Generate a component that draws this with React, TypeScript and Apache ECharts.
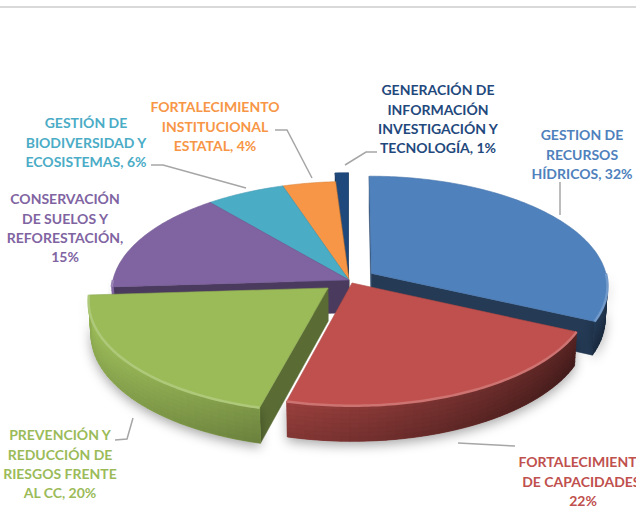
import React, { useEffect, useRef } from "react";
import * as echarts from "echarts";

// ---------- data ----------
const categories = [
  "GESTION DE\nRECURSOS\nHÍDRICOS",
  "FORTALECIMIENTO\nDE CAPACIDADES",
  "PREVENCIÓN Y\nREDUCCIÓN DE\nRIESGOS FRENTE\nAL CC",
  "CONSERVACIÓN\nDE SUELOS Y\nREFORESTACIÓN",
  "GESTIÓN DE\nBIODIVERSIDAD Y\nECOSISTEMAS",
  "FORTALECIMIENTO\nINSTITUCIONAL\nESTATAL",
  "GENERACIÓN DE\nINFORMACIÓN\nINVESTIGACIÓN Y\nTECNOLOGÍA",
];
const values = [32, 22, 20, 15, 6, 4, 1];

// ---------- style / layout ----------
const colors = ["#4F81BD", "#C0504D", "#9BBB59", "#8064A2", "#4BACC6", "#F79646", "#1F497D"];
const labelColors = ["#4F81BD", "#C0504D", "#9BBB59", "#8064A2", "#4BACC6", "#F79646", "#1F497D"];
const explode = [0.113, 0.03, 0.114, 0, 0, 0, 0.1];
const valueOnNewLine = [false, true, false, true, false, false, false];
const labelPos: [number, number][] = [
  [582, 135],
  [583, 462],
  [60, 435],
  [65, 199],
  [86, 123],
  [215, 107],
  [438, 90],
];
const leaderLines: [number, number][][] = [
  [[560, 182], [560, 215]],
  [[458, 443], [515, 446]],
  [[115, 440], [127, 439], [133, 418]],
  [],
  [[151, 165], [163, 165], [246, 188]],
  [[275, 130], [287, 130], [312, 178]],
  [[345, 165], [366, 152], [377, 152]],
];
const LINE_H = 19.3;
const VIEW = { cx: 349, cy: 280, F: 1959, D: 8.3, phi: (27.5 * Math.PI) / 180, T: 0.158 };

function shade(hex: string, f: number) {
  const n = parseInt(hex.slice(1), 16);
  let r = n >> 16, g = (n >> 8) & 255, b = n & 255;
  const t = f < 0 ? 0 : 255;
  const p = Math.min(1, Math.abs(f));
  r = Math.round((t - r) * p + r);
  g = Math.round((t - g) * p + g);
  b = Math.round((t - b) * p + b);
  return `rgb(${r},${g},${b})`;
}

function proj(X: number, Y: number, Z: number): [number, number] {
  const s = Math.sin(VIEW.phi), c = Math.cos(VIEW.phi);
  const depth = VIEW.D - Y * c - Z * s;
  return [VIEW.cx + (VIEW.F * X) / depth, VIEW.cy + (VIEW.F * (Y * s - Z * c)) / depth];
}

const TAU = Math.PI * 2;
const total = values.reduce((a, b) => a + b, 0);
const starts: number[] = [];
{
  let acc = 0;
  values.forEach((v) => {
    starts.push((acc / total) * TAU);
    acc += v;
  });
}
const centroidY = (i: number) => {
  const a0 = starts[i];
  const a1 = a0 + (values[i] / total) * TAU;
  const m = (a0 + a1) / 2;
  return -explode[i] * Math.cos(m) - 0.5 * Math.cos(m);
};
const order = values.map((_, i) => i).sort((a, b) => centroidY(a) - centroidY(b));
const rank = values.map((_, i) => order.indexOf(i));

// wall lighting: light from the left, walls facing right are darker
const wallShade = (t: number) => -0.28 - 0.3 * Math.sin(t);

function renderItem(params: any, api: any) {
  const i = params.dataIndex;
  const v = api.value(0);
  const a0 = starts[i];
  const a1 = a0 + (v / total) * TAU;
  const mid = (a0 + a1) / 2;
  const e = explode[i];
  const ox = e * Math.sin(mid), oy = -e * Math.cos(mid);
  const rim = (t: number, z: number) => proj(ox + Math.sin(t), oy - Math.cos(t), z);
  const apex = (z: number) => proj(ox, oy, z);
  const arc = (s: number, en: number, z: number) => {
    const pts: [number, number][] = [];
    const n = Math.max(2, Math.ceil((en - s) / (Math.PI / 180)));
    for (let k = 0; k <= n; k++) pts.push(rim(s + ((en - s) * k) / n, z));
    return pts;
  };
  const T = -VIEW.T;
  const camY = VIEW.D * Math.cos(VIEW.phi);
  const base = rank[i] * 20;
  const c = colors[i];
  const children: any[] = [];

  const nS = [-Math.cos(a0), -Math.sin(a0)];
  if (nS[0] * (0 - ox) + nS[1] * (camY - oy) > 0) {
    children.push({
      type: "polygon",
      z2: base + 1,
      shape: { points: [apex(0), rim(a0, 0), rim(a0, T), apex(T)] },
      style: { fill: shade(c, -0.42), stroke: shade(c, -0.42), lineWidth: 0.5 },
    });
  }
  const nE = [Math.cos(a1), Math.sin(a1)];
  if (nE[0] * (0 - ox) + nE[1] * (camY - oy) > 0) {
    children.push({
      type: "polygon",
      z2: base + 1,
      shape: { points: [apex(0), rim(a1, 0), rim(a1, T), apex(T)] },
      style: { fill: shade(c, -0.55), stroke: shade(c, -0.55), lineWidth: 0.5 },
    });
  }
  const ws = Math.max(a0, Math.PI / 2);
  const we = Math.min(a1, (3 * Math.PI) / 2);
  if (we > ws) {
    children.push({
      type: "polygon",
      z2: base + 2,
      shape: { points: arc(ws, we, 0).concat(arc(ws, we, T).reverse()) },
      style: {
        fill: shade(c, wallShade((ws + we) / 2)),
        shadowBlur: 12,
        shadowColor: "rgba(0,0,0,0.35)",
        shadowOffsetY: 4,
      },
    });
    const step = Math.PI / 90;
    const n = Math.max(1, Math.ceil((we - ws) / step));
    const bands = 8;
    for (let k = 0; k < n; k++) {
      const s = ws + ((we - ws) * k) / n;
      const en = ws + ((we - ws) * (k + 1)) / n;
      const m = (s + en) / 2;
      for (let b = 0; b < bands; b++) {
        const z0 = (T * b) / bands;
        const z1 = (T * (b + 1)) / bands;
        const f = wallShade(m) - 0.015 * b;
        const col = shade(c, f);
        children.push({
          type: "polygon",
          z2: base + 3,
          shape: { points: [rim(s, z0), rim(en, z0), rim(en, z1), rim(s, z1)] },
          style: { fill: col, stroke: col, lineWidth: 0.7 },
        });
      }
    }
  }
  children.push({
    type: "polygon",
    z2: base + 5,
    shape: { points: [apex(0), ...arc(a0, a1, 0)] },
    style: { fill: c, stroke: shade(c, -0.1), lineWidth: 0.6 },
  });
  if (we > ws) {
    children.push({
      type: "polyline",
      z2: base + 6,
      shape: { points: arc(ws, we, 0) },
      style: { fill: null, stroke: shade(c, 0.2), lineWidth: 2.5 },
    });
  }
  return { type: "group", children };
}

export default function App() {
  const ref = useRef<HTMLDivElement>(null);
  useEffect(() => {
    if (!ref.current) return;
    const chart = echarts.init(ref.current, null, { renderer: "svg" });
    const graphics: any[] = [
      { type: "line", shape: { x1: 0, y1: 7, x2: 636, y2: 7 }, style: { stroke: "#D9D9D9", lineWidth: 2 } },
    ];
    categories.forEach((name, i) => {
      const text = `${name},${valueOnNewLine[i] ? "\n" : " "}${values[i]}%`;
      graphics.push({
        type: "text",
        x: labelPos[i][0],
        y: labelPos[i][1] - LINE_H / 2,
        z: 10,
        style: {
          text,
          fill: labelColors[i],
          font: "bold 14px Lato",
          align: "center",
          verticalAlign: "top",
          lineHeight: LINE_H,
        },
      });
      if (leaderLines[i].length) {
        graphics.push({
          type: "polyline",
          z: 10,
          shape: { points: leaderLines[i] },
          style: { stroke: "#A6A6A6", lineWidth: 1.5, fill: null },
        });
      }
    });
    chart.setOption({
      animation: false,
      backgroundColor: "#FFFFFF",
      graphic: graphics,
      series: [
        {
          type: "custom",
          coordinateSystem: "none",
          silent: true,
          data: values.map((v) => [v]),
          renderItem,
        },
      ],
    });
    return () => chart.dispose();
  }, []);
  return <div ref={ref} style={{ position: "fixed", left: 0, top: 0, width: 636, height: 507 }} />;
}
